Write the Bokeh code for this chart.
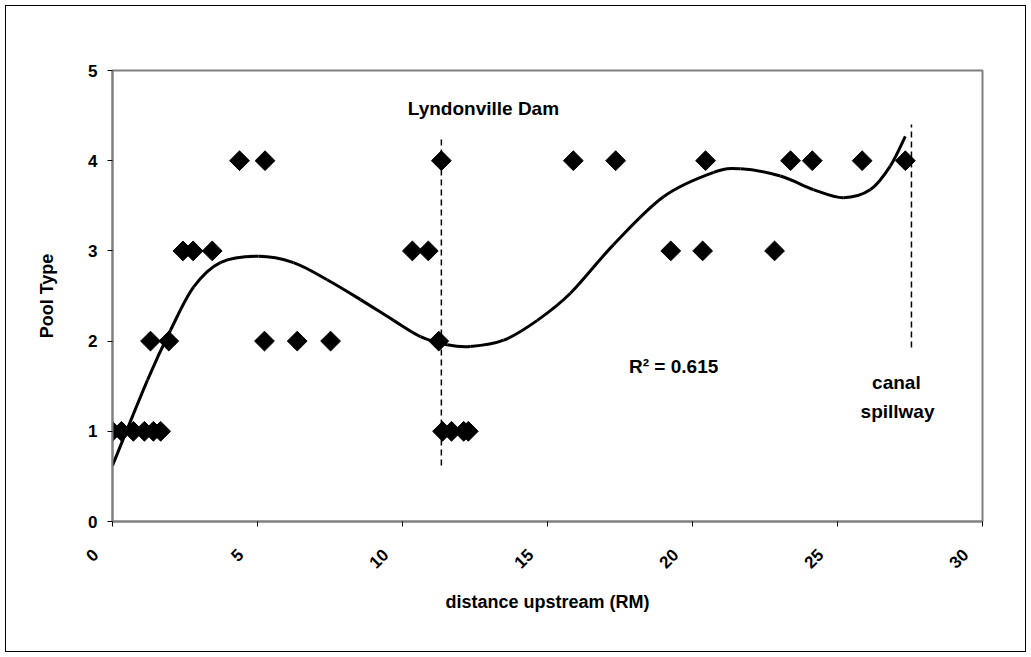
import math
from bokeh.plotting import figure
from bokeh.models import Label, Range1d, FixedTicker
from bokeh.embed import file_html
from bokeh.resources import INLINE

# Observations: distance upstream (river miles) and pool type
dist = [0.0, 0.31, 0.72, 1.10, 1.41, 1.66,
        11.38, 11.69, 12.11, 12.27,
        1.31, 1.94, 5.24, 6.37, 7.52, 11.25,
        2.43, 2.78, 3.44, 10.34, 10.89, 19.25, 20.35, 22.83,
        4.38, 5.26, 11.34, 15.89, 17.35, 20.45, 23.38, 24.13, 25.85, 27.34]
pool = [1, 1, 1, 1, 1, 1,
        1, 1, 1, 1,
        2, 2, 2, 2, 2, 2,
        3, 3, 3, 3, 3, 3, 3, 3,
        4, 4, 4, 4, 4, 4, 4, 4, 4, 4]

# Polynomial trendline
trend_x = [0.0, 1.21, 2.00, 2.80, 3.72, 5.03, 6.24, 7.40, 8.55, 9.69, 10.62,
           11.54, 12.34, 13.49, 14.65, 15.79, 17.28, 19.00, 20.73, 21.66,
           23.03, 24.17, 25.20, 26.14, 26.82, 27.34]
trend_y = [0.62, 1.57, 2.12, 2.60, 2.87, 2.94, 2.87, 2.68, 2.46, 2.23, 2.05,
           1.96, 1.94, 2.01, 2.23, 2.53, 3.07, 3.60, 3.87, 3.91,
           3.83, 3.68, 3.59, 3.68, 3.94, 4.27]

x_ticks = [0, 5, 10, 15, 20, 25, 30]
y_ticks = [0, 1, 2, 3, 4, 5]

# Reference lines (dam and canal spillway)
marker_x = [11.34, 27.55]
marker_y0 = [0.62, 1.93]
marker_y1 = [4.26, 4.40]

FONT = "Liberation Sans"

p = figure(width=1031, height=657, output_backend="svg", toolbar_location=None,
           x_range=Range1d(0, 30), y_range=Range1d(0, 5),
           min_border_left=112, min_border_right=49,
           min_border_top=70, min_border_bottom=136)
p.grid.visible = False
p.outline_line_color = "#808080"
p.outline_line_width = 2
p.background_fill_color = "white"
p.border_fill_color = None
p.styles = {"background-color": "white",
            "box-shadow": "inset 0 0 0 5px white, inset 0 0 0 6px black"}

for ax in (p.xaxis[0], p.yaxis[0]):
    ax.axis_line_color = "#808080"
    ax.axis_line_width = 2
    ax.major_tick_line_color = "black"
    ax.major_tick_in = 0
    ax.major_tick_out = 5
    ax.minor_tick_line_color = None
    ax.major_label_text_font = FONT
    ax.major_label_text_font_style = "bold"
    ax.major_label_text_font_size = "17px"
    ax.major_label_text_color = "black"
    ax.axis_label_text_font = FONT
    ax.axis_label_text_font_style = "bold"
    ax.axis_label_text_font_size = "18px"
    ax.axis_label_text_color = "black"

NB = "\u00a0"
p.xaxis.ticker = FixedTicker(ticks=x_ticks)
p.xaxis.major_label_overrides = {t: str(t) + NB * 5 for t in x_ticks}
p.yaxis.ticker = FixedTicker(ticks=y_ticks)
p.xaxis.major_label_orientation = math.pi / 4
p.xaxis.major_label_standoff = 9
p.xaxis.axis_label = "distance upstream (RM)"
p.xaxis.axis_label_standoff = 10
p.yaxis.axis_label = "Pool Type"
p.yaxis.major_label_standoff = 10
p.yaxis.axis_label_standoff = 28

p.segment(x0=marker_x, y0=marker_y0, x1=marker_x, y1=marker_y1,
          line_color="black", line_width=1.5, line_dash="6 4")

# smooth curve through the read trendline points (Catmull-Rom as cubic Beziers)
n = len(trend_x)
bx0, by0, bx1, by1, c0x, c0y, c1x, c1y = [], [], [], [], [], [], [], []
for i in range(n - 1):
    im1 = max(i - 1, 0)
    ip2 = min(i + 2, n - 1)
    bx0.append(trend_x[i]); by0.append(trend_y[i])
    bx1.append(trend_x[i + 1]); by1.append(trend_y[i + 1])
    c0x.append(trend_x[i] + (trend_x[i + 1] - trend_x[im1]) / 6)
    c0y.append(trend_y[i] + (trend_y[i + 1] - trend_y[im1]) / 6)
    c1x.append(trend_x[i + 1] - (trend_x[ip2] - trend_x[i]) / 6)
    c1y.append(trend_y[i + 1] - (trend_y[ip2] - trend_y[i]) / 6)
p.bezier(x0=bx0, y0=by0, x1=bx1, y1=by1, cx0=c0x, cy0=c0y, cx1=c1x, cy1=c1y,
         line_color="black", line_width=3)

p.scatter(dist, pool, marker="square", angle=math.pi / 4, size=14,
          fill_color="black", line_color="black", line_width=1)

def lab(x, y, t):
    p.add_layout(Label(x=x, y=y, text=t, text_font=FONT, text_font_style="bold",
                       text_font_size="19px", text_align="center",
                       text_baseline="middle", text_color="black"))

lab(12.79, 4.58, "Lyndonville Dam")
lab(19.35, 1.72, "R² = 0.615")
lab(27.03, 1.54, "canal")
lab(27.07, 1.22, "spillway")

open("out.html", "w").write(file_html(p, INLINE))
